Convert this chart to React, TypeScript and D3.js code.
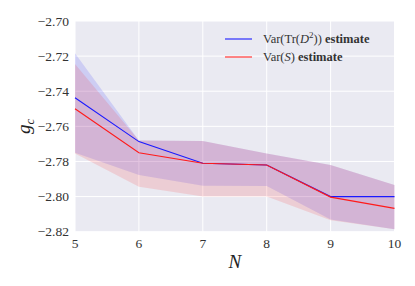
import React from 'react';
import * as d3 from 'd3';

// chart values
const N = [5, 6, 7, 8, 9, 10];
const varTrD2 = [-2.7437, -2.7687, -2.781, -2.782, -2.8, -2.8];
const varTrD2Lower = [-2.775, -2.7877, -2.7938, -2.794, -2.813, -2.8186];
const varTrD2Upper = [-2.7184, -2.768, -2.7683, -2.7754, -2.782, -2.7934];
const varS = [-2.75, -2.775, -2.781, -2.782, -2.8003, -2.8067];
const varSLower = [-2.7755, -2.7944, -2.8, -2.8, -2.8135, -2.8186];
const varSUpper = [-2.7245, -2.768, -2.7683, -2.7754, -2.782, -2.7934];
const yTicks = [-2.82, -2.8, -2.78, -2.76, -2.74, -2.72, -2.7];

const W = 415;
const H = 286;
const margin = { top: 21, right: 20.5, bottom: 54.3, left: 75 };
const font = '"Liberation Serif", "DejaVu Serif", serif';

const App = () => {
  const x = d3.scaleLinear().domain([5, 10]).range([margin.left, W - margin.right]);
  const y = d3.scaleLinear().domain([-2.82, -2.7]).range([H - margin.bottom, margin.top]);

  const line = d3.line<number>().x((d, i) => x(N[i])).y(d => y(d));
  const band = (lo: number[], hi: number[]) =>
    d3.area<number>().x((d, i) => x(N[i])).y0((d, i) => y(lo[i])).y1(d => y(d))(hi) || '';

  const fmt = d3.format('.2f');
  const [x0, x1] = x.range();
  const [y0, y1] = y.range();

  return (
    <svg width={W} height={H} style={{ position: 'absolute', left: 0, top: 0, background: '#fff' }} fontFamily={font}>
      <rect x={x0} y={y1} width={x1 - x0} height={y0 - y1} fill="#EAEAF2" />
      {N.map(n => (
        <line key={'gx' + n} x1={x(n)} x2={x(n)} y1={y1} y2={y0} stroke="#fff" strokeWidth={1} />
      ))}
      {yTicks.map(t => (
        <line key={'gy' + t} x1={x0} x2={x1} y1={y(t)} y2={y(t)} stroke="#fff" strokeWidth={1} />
      ))}

      <path d={band(varTrD2Lower, varTrD2Upper)} fill="#0000ff" fillOpacity={0.12} />
      <path d={band(varSLower, varSUpper)} fill="#ff0000" fillOpacity={0.12} />
      <path d={line(varTrD2) || ''} fill="none" stroke="#1a1aff" strokeWidth={1.1} />
      <path d={line(varS) || ''} fill="none" stroke="#ff1a1a" strokeWidth={1.1} />

      {yTicks.map(t => (
        <text key={'ty' + t} x={x0 - 6} y={y(t)} dy="0.35em" textAnchor="end" fontSize={13.5} fill="#333">
          {fmt(t)}
        </text>
      ))}
      {N.map(n => (
        <text key={'tx' + n} x={x(n)} y={y0 + 16.5} textAnchor="middle" fontSize={13.5} fill="#333">
          {n}
        </text>
      ))}

      <text x={(x0 + x1) / 2} y={268} textAnchor="middle" fontSize={19} fontStyle="italic" fill="#222">N</text>
      <text transform={`translate(30,${(y0 + y1) / 2}) rotate(-90)`} textAnchor="middle" fontSize={19} fontStyle="italic" fill="#222">
        g<tspan fontSize={13} dy={4}>c</tspan>
      </text>

      <g fontSize={12.5} fill="#333">
        <line x1={225} x2={252} y1={39} y2={39} stroke="#1a1aff" strokeWidth={1.1} />
        <line x1={225} x2={252} y1={57} y2={57} stroke="#ff6666" strokeWidth={1.6} />
        <text x={263} y={43}>
          Var(Tr(<tspan fontStyle="italic">D</tspan>
          <tspan fontSize={9} dy={-5}>2</tspan>
          <tspan dy={5}>)) </tspan>
          <tspan fontWeight="bold">estimate</tspan>
        </text>
        <text x={263} y={61}>
          Var(<tspan fontStyle="italic">S</tspan>) <tspan fontWeight="bold">estimate</tspan>
        </text>
      </g>
    </svg>
  );
};

export default App;
